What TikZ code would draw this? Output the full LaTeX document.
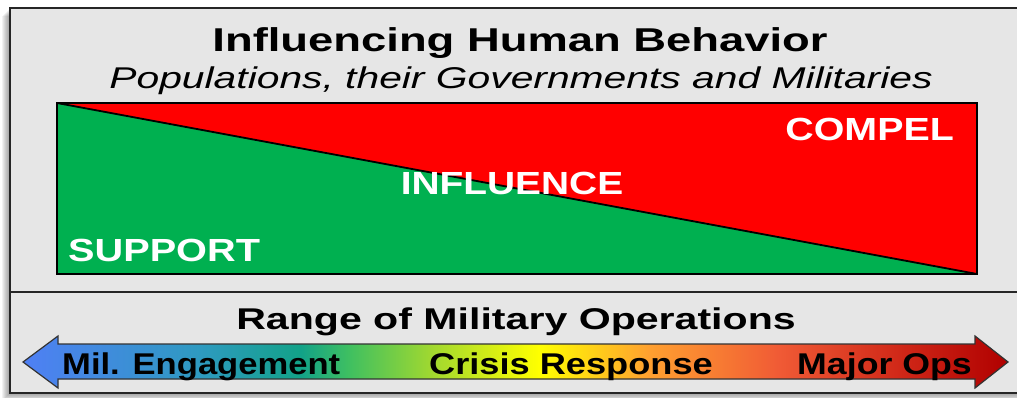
\documentclass[tikz,border=0pt]{standalone}
\usepackage{fontspec}
\setmainfont{Liberation Sans}
\definecolor{bgray}{HTML}{E6E6E6}
\definecolor{sgreen}{HTML}{00B050}
\definecolor{sred}{HTML}{FF0000}
\definecolor{ga}{HTML}{4F7FF5}
\definecolor{gb}{HTML}{2E9AC0}
\definecolor{gc}{HTML}{12A288}
\definecolor{gd}{HTML}{40C060}
\definecolor{ge}{HTML}{A0D830}
\definecolor{gf}{HTML}{FFFF00}
\definecolor{gg}{HTML}{FFA030}
\definecolor{gh}{HTML}{F05A35}
\definecolor{gi}{HTML}{D02818}
\definecolor{gj}{HTML}{B00000}
\pgfdeclarehorizontalshading{romo}{100bp}{color(0bp)=(ga); color(25bp)=(ga); color(34bp)=(gb); color(39.1bp)=(gc); color(41.6bp)=(gd); color(45.7bp)=(ge); color(51.2bp)=(gf); color(56.8bp)=(gg); color(63.4bp)=(gh); color(69.5bp)=(gi); color(75bp)=(gj); color(100bp)=(gj)}
\tikzset{
  wtext/.style={text=white, font=\bfseries\fontsize{32}{36}\selectfont, inner sep=0pt},
  ktext/.style={text=black, inner sep=0pt},
  arrowlabel/.style={ktext, font=\bfseries\fontsize{30}{34}\selectfont},
}
\newcommand{\hstretch}[2]{\scalebox{#1}[1]{#2}}
\begin{document}
\begin{tikzpicture}[x=1pt,y=-1pt]
\useasboundingbox (0,0) rectangle (1017,398);
\fill[white] (0,0) rectangle (1017,398);
% shadow
\foreach \i in {1,...,8}{
  \fill[black, opacity=0.05] (10-\i,8+\i) rectangle (1030,393+\i);
}
% outer box
\fill[bgray] (10,8) rectangle (1030,393);
\draw[line width=1.6pt, black!85] (10,8) rectangle (1030,393);
\coordinate (sepL) at (10,292);
\coordinate (sepR) at (1030,292);
\draw[line width=1.6pt, black!85] (sepL) -- (sepR);
% main rectangle
\coordinate (TL) at (57,103);
\coordinate (TR) at (977,103);
\coordinate (BR) at (977,274);
\coordinate (BL) at (57,274);
\fill[sred] (TL) -- (TR) -- (BR) -- cycle;
\fill[sgreen] (TL) -- (BR) -- (BL) -- cycle;
\draw[line width=1.8pt] (TL) -- (BR);
\draw[line width=2pt] (TL) rectangle (BR);
% texts
\node[ktext, anchor=base, font=\bfseries\fontsize{33}{37}\selectfont] (title) at (520,52) {\hstretch{1.375}{Influencing Human Behavior}};
\node[ktext, anchor=base, font=\itshape\fontsize{30}{34}\selectfont] (sub) at (521,89) {\hstretch{1.36}{Populations, their Governments and Militaries}};
\node[wtext, anchor=base east] (compel) at (954,141) {\hstretch{1.23}{COMPEL}};
\node[wtext, anchor=base] (infl) at (512,195) {\hstretch{1.215}{INFLUENCE}};
\node[wtext, anchor=base west] (supp) at (68,261) {\hstretch{1.24}{SUPPORT}};
\node[ktext, anchor=base, font=\bfseries\fontsize{30}{34}\selectfont] (range) at (516,329) {\hstretch{1.37}{Range of Military Operations}};
% arrow
\shade[shading=romo]
  (23,362) -- (58,336) -- (58,344) -- (975,344) -- (975,336) -- (1008,362)
  -- (975,388) -- (975,379) -- (58,379) -- (58,388) -- cycle;
\draw[black!80, line width=1.2pt]
  (23,362) -- (58,336) -- (58,344) -- (975,344) -- (975,336) -- (1008,362)
  -- (975,388) -- (975,379) -- (58,379) -- (58,388) -- cycle;
\node[arrowlabel, anchor=base west] (mil) at (62,374) {\hstretch{1.153}{Mil. Engagement}};
\node[arrowlabel, anchor=base] (crisis) at (571,374) {\hstretch{1.207}{Crisis Response}};
\node[arrowlabel, anchor=base east] (major) at (972,374) {\hstretch{1.19}{Major Ops}};
\end{tikzpicture}
\end{document}
